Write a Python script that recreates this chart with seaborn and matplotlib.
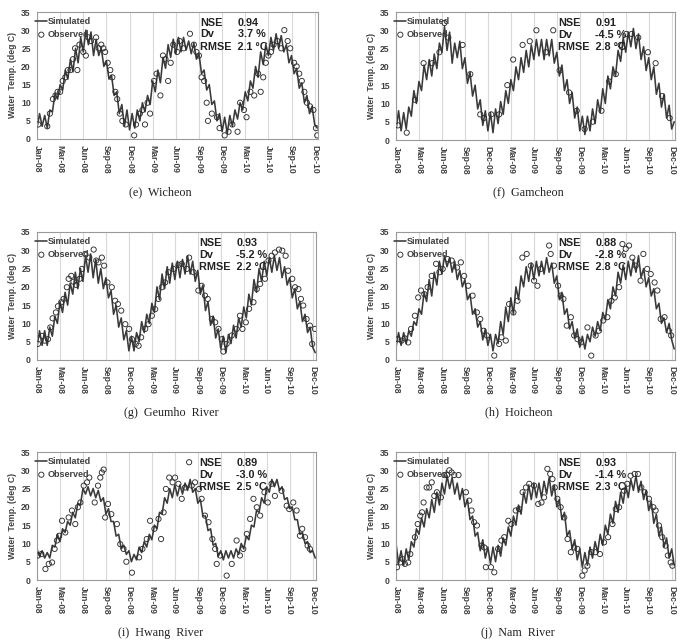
import pandas as pd
import matplotlib
matplotlib.use("Agg")
import matplotlib.pyplot as plt
import seaborn as sns

# Simulated water temperature, read every 10 days from 2008-01-01 (deg C)
sim_e = [3, 7, 3.5, 6.5, 3, 8, 7.5, 12.5, 11, 15,
         13.5, 19, 16.5, 22, 18.5, 25, 21, 28, 24, 30,
         26, 29.5, 23, 27.5, 23, 25, 20, 21.5, 16.5, 17.5,
         12, 13, 7, 9.5, 3.5, 8, 2.5, 7, 3, 8,
         5, 10, 7.5, 12, 9.5, 16, 13, 19, 15.5, 22.5,
         19.5, 26, 22.5, 27.5, 23.5, 28, 24, 28, 24.5, 27,
         23.5, 26.5, 22, 23.5, 18, 19, 13.5, 15, 9.5, 10.5,
         5, 7, 2, 6, 1.5, 6.5, 3.5, 8, 5.5, 10,
         8, 13, 10.5, 16, 14, 20, 17, 24, 20.5, 26,
         23, 28, 24.5, 29, 25, 28.5, 24, 26, 21, 23,
         18, 19.5, 14, 15.5, 10, 12, 7, 9, 4, 3]
sim_f = [2.5, 8, 2.5, 7.5, 3, 9, 6.5, 13.5, 10, 16,
         13.5, 20.5, 16.5, 22, 17.5, 23.5, 19.5, 26.5, 24, 31,
         24.5, 29.5, 21, 26.5, 22.5, 27, 19.5, 22.5, 15.5, 18.5,
         12, 15, 8.5, 11, 4, 8, 2.5, 7.5, 2, 8.5,
         4.5, 10.5, 7, 13.5, 10, 16.5, 13.5, 20, 16.5, 22.5,
         18.5, 24.5, 20, 26, 22, 27.5, 23, 27.5, 22, 27.5,
         23, 27.5, 21, 24, 17.5, 20.5, 13.5, 16.5, 10, 13,
         6, 9, 2.5, 6.5, 1.5, 6.5, 2.5, 8.5, 4.5, 11,
         7.5, 14, 10, 17.5, 14, 20, 17.5, 24.5, 21.5, 28,
         24, 29.5, 25.5, 30.5, 25, 29, 22, 25.5, 19, 22.5,
         16.5, 20, 12.5, 15.5, 9, 12.5, 6, 9.5, 3, 5]
sim_g = [3.5, 8, 4, 8, 4, 9, 6.5, 12, 10, 16,
         13, 18.5, 15, 21, 18, 24, 19.5, 25, 21.5, 28.5,
         24, 29, 22.5, 27.5, 21, 25, 19.5, 22.5, 17, 19,
         12.5, 15, 9, 11.5, 5.5, 8, 2.5, 6.5, 2.5, 7.5,
         5, 10.5, 7.5, 12.5, 10, 15.5, 13, 20, 16.5, 23.5,
         19.5, 25.5, 21, 26.5, 22, 27, 22.5, 27.5, 23.5, 28.5,
         23.5, 27, 21.5, 24.5, 18, 20.5, 13.5, 16, 9.5, 12,
         6, 8.5, 3, 6.5, 2, 7, 4.5, 9.5, 6, 11.5,
         9, 14.5, 11.5, 18, 15, 22, 18.5, 25, 21.5, 27,
         23, 28, 24, 28.5, 24.5, 28, 22.5, 25.5, 20.5, 22.5,
         17, 19.5, 14, 16, 10.5, 12.5, 7.5, 9, 3.5, 2]
sim_h = [3.5, 7.5, 4, 7.5, 4.5, 8, 6.5, 10.5, 9.5, 14,
         12.5, 18.5, 16, 22, 17.5, 24, 20.5, 27, 23.5, 28.5,
         25.5, 28, 24, 27, 22, 24.5, 20, 22, 16.5, 18,
         12.5, 14, 9, 10.5, 5.5, 8.5, 4, 7, 2.5, 7,
         4.5, 10.5, 7, 14.5, 10.5, 17, 12.5, 20, 16.5, 23,
         20, 25.5, 21.5, 26.5, 22, 27, 23, 27, 23.5, 28,
         24, 26.5, 21, 23, 16.5, 18.5, 12.5, 14, 8.5, 10.5,
         6, 8.5, 3.5, 6.5, 3, 7, 5, 9, 6.5, 10.5,
         8, 13, 11, 16.5, 14, 20, 17.5, 24, 21, 26,
         22, 27, 23, 27.5, 24, 28.5, 22.5, 25, 20, 22.5,
         17.5, 19.5, 14, 15.5, 10, 11.5, 7.5, 10, 5.5, 3]
sim_i = [8.5, 6.5, 8, 6, 7.5, 6, 9.5, 9, 12.5, 10.5,
         14, 13, 16, 15, 18.5, 17, 21, 20.5, 25, 23.5,
         25.5, 23, 25, 22.5, 24.5, 21.5, 22.5, 18, 19.5, 16,
         16, 12, 12.5, 8.5, 9.5, 7, 8, 5, 7, 5.5,
         9, 7.5, 10.5, 9, 12.5, 11, 15, 14, 18.5, 18,
         22.5, 21, 25, 22.5, 26, 23, 26, 23.5, 26.5, 24.5,
         27.5, 24, 25, 21, 22, 17.5, 17.5, 13.5, 14, 9.5,
         10, 6.5, 8, 5.5, 8, 6, 8, 6, 8.5, 7,
         10, 8.5, 12, 11, 15, 14.5, 19, 18.5, 22.5, 21,
         25.5, 24, 27.5, 25.5, 27.5, 24.5, 25.5, 22, 22.5, 19.5,
         20, 16.5, 16.5, 12.5, 13, 10, 10.5, 7.5, 8, 6]
sim_j = [10, 4.5, 8, 4, 8.5, 5.5, 10.5, 9, 14, 12.5,
         17, 14.5, 19.5, 17, 22, 18.5, 24, 20.5, 26.5, 23.5,
         28.5, 25, 28, 23.5, 26.5, 22, 25, 20, 22, 16.5,
         17.5, 12, 13, 8, 11, 6, 9, 4.5, 9, 5,
         9.5, 6.5, 11.5, 9.5, 14.5, 12, 17.5, 15, 20.5, 18,
         24, 21, 26, 22, 26.5, 22.5, 26.5, 22.5, 27, 23.5,
         28, 23, 26, 20, 22, 16.5, 18.5, 12, 13.5, 8.5,
         11, 5.5, 8.5, 3.5, 7.5, 4, 9, 6, 10.5, 7.5,
         12.5, 9.5, 15, 12.5, 18, 15.5, 21.5, 18.5, 24, 21,
         26, 22.5, 27.5, 24.5, 28.5, 24, 27, 22, 24.5, 19,
         21.5, 15.5, 18, 12, 14.5, 9, 11.5, 6, 8.5, 4]

# Observed samples: day offset from 2008-01-01 and temperature (deg C)
obs_day_e = [5, 40, 50, 62, 72, 80, 90, 100, 110, 120,
             130, 140, 148, 157, 165, 180, 190, 200, 210, 230,
             240, 250, 258, 265, 275, 285, 293, 305, 312, 322,
             332, 345, 378, 385, 400, 410, 420, 430, 440, 455,
             465, 480, 490, 500, 510, 520, 530, 545, 555, 570,
             595, 610, 620, 630, 640, 650, 660, 665, 680, 700,
             710, 730, 745, 760, 780, 790, 805, 815, 830, 845,
             860, 870, 880, 890, 900, 910, 920, 935, 950, 962,
             975, 985, 1000, 1010, 1020, 1030, 1040, 1050, 1062, 1075,
             1085, 1090]
obs_val_e = [4, 3.5, 7, 11, 12, 13, 13, 16, 17, 19,
             19, 22, 25, 19, 26, 24, 23, 28, 27, 28,
             25, 26, 25, 24, 21, 19, 17, 13, 11, 7,
             5, 4, 1, 4, 7, 8, 4, 10, 7, 16,
             18, 12, 23, 22, 16, 21, 26, 24, 27, 25,
             29, 26, 24, 23, 17, 16, 10, 5, 7, 6,
             3, 1, 2, 4, 2, 10, 8, 6, 13, 12,
             18, 13, 17, 21, 23, 24, 26, 27, 25, 30,
             27, 25, 21, 20, 18, 16, 13, 10, 9, 8,
             3, 1]
obs_day_f = [8, 42, 74, 108, 141, 170, 190, 205, 261, 291,
             330, 344, 373, 404, 436, 459, 496, 524, 550, 587,
             616, 641, 678, 708, 739, 771, 805, 835, 861, 880,
             902, 923, 949, 987, 1017, 1043, 1072]
obs_val_f = [4, 2, 11, 21, 21, 24, 32, 28, 26, 18,
             7, 6, 7, 7, 15, 22, 26, 27, 30, 24,
             30, 19, 13, 8, 3, 5, 8, 16, 18, 26,
             29, 29, 28, 24, 21, 12, 6]
obs_day_g = [4, 20, 30, 43, 52, 61, 74, 82, 95, 104,
             117, 124, 134, 143, 154, 167, 176, 189, 205, 222,
             232, 241, 254, 263, 276, 293, 306, 317, 330, 346,
             361, 372, 387, 398, 408, 424, 437, 450, 463, 476,
             489, 502, 515, 535, 554, 567, 587, 596, 613, 632,
             645, 658, 669, 685, 698, 711, 724, 730, 743, 763,
             782, 795, 805, 818, 831, 848, 861, 874, 893, 907,
             919, 932, 948, 961, 974, 984, 1000, 1011, 1024, 1034,
             1043, 1056, 1069, 1078, 1089]
obs_val_g = [4.4, 6.6, 5.3, 5.7, 8.9, 11.4, 13, 14.7, 15.8, 16.7,
             19.9, 22.2, 23, 21.4, 20.5, 22.2, 24.9, 29, 28, 30.2,
             27.2, 26.7, 28, 25.8, 21.2, 19.9, 16.2, 15.3, 13.5, 9.8,
             8.5, 5.7, 4.4, 3.9, 6.2, 8.5, 9.8, 12.1, 13.9, 16.7,
             19.9, 21.2, 24, 24.9, 26, 26.3, 24.9, 28, 24, 19,
             20.3, 17.6, 16.7, 11.2, 10.3, 8.5, 5.7, 2.3, 4.4, 6.7,
             8.5, 12.1, 8.5, 10.3, 14, 15.8, 19.4, 20.8, 22.2, 27.2,
             28.5, 29.4, 30.2, 29.9, 28.5, 24.4, 22.2, 19.9, 19.4, 16.7,
             14.9, 11.2, 9.4, 4.4, 8.5]
obs_day_h = [7, 22, 35, 48, 59, 74, 87, 98, 111, 124,
             140, 157, 170, 183, 202, 218, 239, 254, 267, 283,
             300, 317, 330, 343, 356, 385, 404, 413, 430, 443,
             460, 476, 495, 512, 528, 541, 554, 567, 600, 606,
             619, 635, 645, 656, 669, 685, 698, 711, 724, 750,
             765, 782, 795, 812, 828, 844, 857, 874, 887, 900,
             913, 926, 939, 958, 969, 984, 998, 1013, 1024, 1037,
             1052, 1069, 1078]
obs_val_h = [5.7, 5.3, 5.9, 4.8, 8.5, 12.1, 17.1, 19, 18, 19.9,
             23, 26.3, 24, 24.9, 27.6, 27.2, 25.3, 26.7, 23, 20.3,
             17.6, 13, 11.2, 8, 6.7, 1.2, 4.4, 6.2, 5.3, 15.3,
             13, 16.2, 28, 29, 25.8, 21.7, 20.3, 24.9, 31.3, 29,
             25.8, 20.3, 17.6, 16.7, 9.4, 11.7, 6.7, 5.7, 4.8, 8.9,
             1.2, 6.7, 8, 10.8, 11.7, 16.2, 17.1, 19.9, 31.7, 30.4,
             31.3, 28, 25.8, 21.7, 29, 24.9, 23.5, 21.2, 19, 11.2,
             11.7, 8, 6.7]
obs_day_i = [4, 17, 33, 46, 59, 69, 78, 87, 98, 111,
             124, 137, 150, 160, 170, 183, 196, 205, 226, 239,
             248, 254, 261, 267, 278, 291, 313, 326, 339, 350,
             372, 400, 413, 430, 443, 460, 476, 486, 496, 505,
             518, 531, 541, 554, 567, 580, 596, 606, 619, 635,
             645, 658, 672, 687, 698, 704, 717, 743, 763, 782,
             795, 808, 822, 835, 848, 861, 874, 891, 904, 919,
             932, 958, 978, 988, 1004, 1017, 1030, 1039, 1050, 1060,
             1069]
obs_val_i = [6.7, 7.1, 3, 4.4, 4.8, 8.5, 10.8, 12.1, 16.2, 13,
             17.1, 19, 15.3, 19.9, 21.2, 25.8, 26.7, 28, 21.2, 25.8,
             28, 29.4, 30.2, 17.1, 20.8, 18, 15.3, 9.8, 8.5, 5,
             2, 6.2, 8.5, 11.2, 16.2, 14, 16.7, 11.2, 18.5, 24.9,
             28, 26.7, 28, 26.3, 22.2, 25.3, 32.2, 25.8, 26.7, 24.9,
             22.2, 17.6, 15.8, 11.2, 8.5, 4.4, 6.7, 1.2, 4.4, 10.8,
             6.7, 8.5, 12.6, 16.7, 22.2, 19.9, 17.6, 24, 21.2, 26.3,
             23, 24.4, 20.3, 19.4, 21.2, 19, 12.1, 14, 11.7, 9.4,
             8.5]
obs_day_j = [4, 17, 26, 35, 48, 56, 74, 85, 95, 102,
             108, 120, 130, 140, 150, 160, 176, 189, 200, 209,
             218, 228, 245, 274, 287, 296, 306, 317, 335, 346,
             352, 372, 385, 400, 413, 424, 440, 452, 469, 482,
             496, 509, 522, 541, 557, 570, 580, 593, 604, 613,
             622, 632, 645, 659, 672, 685, 698, 711, 730, 739,
             750, 765, 782, 799, 815, 831, 848, 861, 874, 893,
             906, 919, 935, 948, 961, 974, 991, 1008, 1017, 1030,
             1043, 1056, 1065, 1076, 1083]
obs_val_j = [3.5, 4.8, 5.7, 4.4, 4.8, 7.1, 11.7, 15.3, 17.6, 18.5,
             21.2, 25.3, 25.3, 26.7, 23, 24, 22.6, 28.7, 28.7, 30,
             29.4, 28.7, 28.7, 24, 21.7, 19, 15.8, 14.9, 9.4, 8.9,
             3.5, 3.5, 2.1, 8.5, 10.8, 11.7, 16.2, 15.3, 19, 19.4,
             24, 25.3, 26.3, 25.8, 20.8, 21.2, 22.6, 30.4, 29, 27.6,
             25.3, 22.2, 19.9, 17.1, 11.2, 7.6, 8.9, 8.5, 1.2, 2.6,
             3.9, 7.6, 7.6, 7.1, 10.3, 11.7, 15.3, 19.4, 19.9, 24.4,
             26.3, 28.5, 29, 29, 25.3, 24, 22.2, 19.9, 19, 14.9,
             11.7, 9.4, 6.7, 4.8, 3.9]

captions = ["(e)  Wicheon", "(f)  Gamcheon", "(g)  Geumho  River",
            "(h)  Hoicheon", "(i)  Hwang  River", "(j)  Nam  River"]
nse = ["0.94", "0.91", "0.93", "0.88", "0.89", "0.93"]
dv = ["3.7 %", "-4.5 %", "-5.2 %", "-2.8 %", "-3.0 %", "-1.4 %"]
rmse = ["2.1", "2.8", "2.2", "2.8", "2.5", "2.3"]

sims = [sim_e, sim_f, sim_g, sim_h, sim_i, sim_j]
obs_days = [obs_day_e, obs_day_f, obs_day_g, obs_day_h, obs_day_i, obs_day_j]
obs_vals = [obs_val_e, obs_val_f, obs_val_g, obs_val_h, obs_val_i, obs_val_j]

start = pd.Timestamp("2008-01-01")
sim_dates = pd.date_range(start, periods=110, freq="10D")
tick_dates = pd.date_range(start, periods=13, freq="90D")
tick_labels = [d.strftime("%b-%y") for d in tick_dates]

sns.set_style("white")
plt.rcParams["font.family"] = ["Liberation Sans", "DejaVu Sans"]

fig = plt.figure(figsize=(6.84, 6.42), dpi=100)
W, H = 684.0, 642.0

# axes boxes in pixels: left, top, right, bottom
boxes = [(37, 12, 318, 139), (396, 12, 675, 140),
         (37, 232, 316, 360), (396, 232, 675, 360),
         (37, 452, 316, 580), (396, 452, 675, 580)]
cap_pos = [(160, 192), (528, 192), (171, 413), (519, 412), (161, 633), (518, 633)]

grey = "#404040"
for k in range(6):
    l, t, r, b = boxes[k]
    ax = fig.add_axes([l / W, 1 - b / H, (r - l) / W, (b - t) / H])
    sns.lineplot(x=sim_dates, y=sims[k], ax=ax, color="#3a3a3a", lw=1.15,
                 label="Simulated", zorder=2)
    odates = start + pd.to_timedelta(obs_days[k], unit="D")
    sns.scatterplot(x=odates, y=obs_vals[k], ax=ax, marker="o", s=14,
                    facecolor="none", edgecolor="#2e2e2e", linewidth=0.65,
                    label="Observed", zorder=3)

    ax.set_xlim(start, start + pd.Timedelta(days=1093))
    ax.set_ylim(0, 35)
    ax.set_yticks(range(0, 36, 5))
    ax.set_xticks(tick_dates)
    ax.set_xticklabels(tick_labels, rotation=-90)
    ax.grid(axis="x", color="#d9d9d9", lw=0.8)
    ax.set_axisbelow(True)
    for s in ax.spines.values():
        s.set_color("#9a9a9a")
        s.set_linewidth(0.8)
    ax.tick_params(axis="both", labelsize=6.2, colors=grey, length=3,
                   width=0.6, pad=1.5)
    for lbl in ax.get_xticklabels() + ax.get_yticklabels():
        lbl.set_fontweight("bold")
    ax.set_xlabel("")
    ax.set_ylabel("Water  Temp. (deg C)", fontsize=6.2, fontweight="bold",
                  color=grey, labelpad=3)

    leg = ax.legend(loc="upper left", bbox_to_anchor=(-0.012, 0.975),
                    frameon=False, prop={"size": 6.5, "weight": "bold"},
                    handlelength=1.3, handletextpad=0.05, labelspacing=0.45,
                    borderpad=0.2, borderaxespad=0)
    for txt in leg.get_texts():
        txt.set_color(grey)

    kw = dict(transform=ax.transAxes, fontsize=7.8, fontweight="bold",
              color="#222222", va="center", ha="left")
    ax.text(0.58, 0.915, "NSE", **kw)
    ax.text(0.715, 0.915, nse[k], **kw)
    ax.text(0.58, 0.824, "Dv", **kw)
    ax.text(0.715, 0.824, dv[k], **kw)
    ax.text(0.58, 0.727, "RMSE  " + rmse[k] + " \u00b0C", **kw)

    cx, cy = cap_pos[k]
    fig.text(cx / W, 1 - cy / H, captions[k], family="Liberation Serif",
             fontsize=8.7, ha="center", va="center", color="#222222")

fig.savefig("out.png", dpi=100)
